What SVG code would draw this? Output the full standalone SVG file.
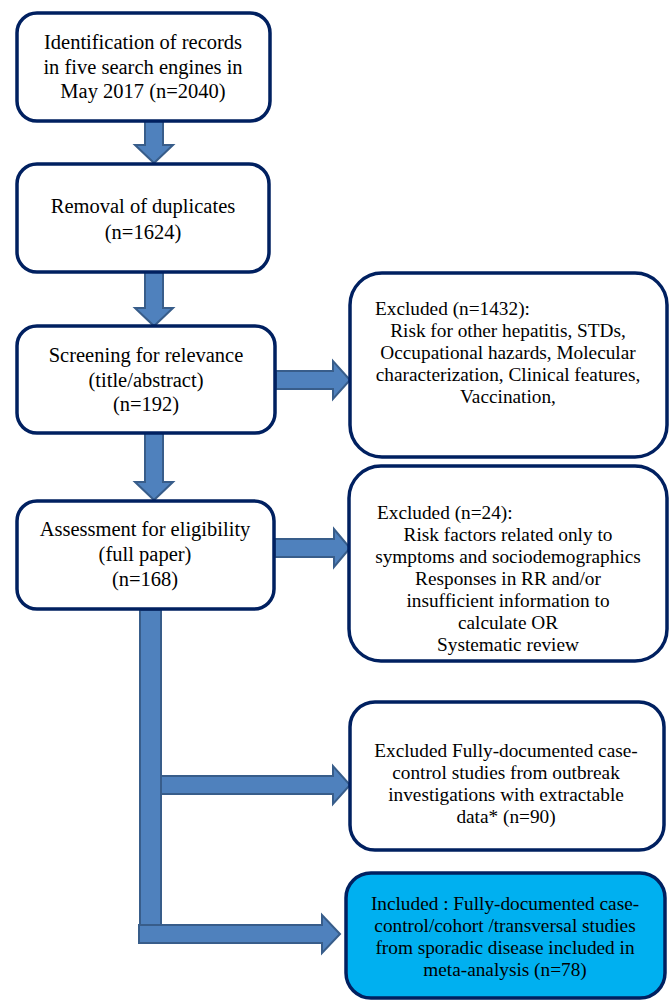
<svg xmlns="http://www.w3.org/2000/svg" width="670" height="1000" viewBox="0 0 670 1000">
<style>
.box{fill:#ffffff;stroke:#002060;stroke-width:3.5}
.inc{fill:#00b0f0;stroke:#002060;stroke-width:3.5}
.arr{fill:#4f81bd;stroke:#385d8a;stroke-width:2;stroke-linejoin:miter}
text{font-family:"Liberation Serif","Times New Roman",serif;fill:#000000}
.l{font-size:20.5px;text-anchor:middle}
.r{font-size:19.3px;text-anchor:middle}
.rs{font-size:19.3px;text-anchor:start}
</style>
<rect width="670" height="1000" fill="#ffffff"/>
<g id="connectors">
<polygon class="arr" points="145,121 163,121 163,145 173,145 154,163 135,145 145,145"/>
<polygon class="arr" points="145,272 163,272 163,308 173,308 154,326 135,308 145,308"/>
<polygon class="arr" points="145,433 163,433 163,482 173,482 154,500 135,482 145,482"/>
<polygon class="arr" points="276,371 333,371 333,361 350,380 333,399 333,389 276,389"/>
<polygon class="arr" points="275,539 334,539 334,529 350,548 334,567 334,557 275,557"/>
<rect class="arr" x="140" y="610" width="21" height="318"/>
<polygon class="arr" points="161,776 333,776 333,766 350,785 333,804 333,794 161,794"/>
<polygon class="arr" points="139,925 322,925 322,915 340,934 322,953 322,943 139,943"/>
</g>
<g id="n1">
<rect class="box" x="17" y="13" width="253" height="108" rx="20"/>
<text class="l" x="143" y="49">Identification of records</text>
<text class="l" x="143" y="74">in five search engines in</text>
<text class="l" x="143" y="98">May 2017 (n=2040)</text>
</g>
<g id="n2">
<rect class="box" x="17" y="164" width="252" height="108" rx="20"/>
<text class="l" x="143" y="213">Removal of duplicates</text>
<text class="l" x="143" y="239">(n=1624)</text>
</g>
<g id="n3">
<rect class="box" x="17" y="326" width="258" height="107" rx="20"/>
<text class="l" x="146" y="362">Screening for relevance</text>
<text class="l" x="146" y="387">(title/abstract)</text>
<text class="l" x="146" y="411">(n=192)</text>
</g>
<g id="n4">
<rect class="box" x="17" y="501" width="257" height="108" rx="20"/>
<text class="l" x="145" y="536">Assessment for eligibility</text>
<text class="l" x="145" y="561">(full paper)</text>
<text class="l" x="145" y="586">(n=168)</text>
</g>
<g id="e1">
<rect class="box" x="350" y="273" width="317" height="184" rx="32"/>
<text class="rs" x="375" y="315">Excluded (n=1432):</text>
<text class="r" x="508" y="337">Risk for other hepatitis, STDs,</text>
<text class="r" x="508" y="359">Occupational hazards, Molecular</text>
<text class="r" x="508" y="381">characterization, Clinical features,</text>
<text class="r" x="508" y="403">Vaccination,</text>
</g>
<g id="e2">
<rect class="box" x="349" y="466" width="318" height="195" rx="32"/>
<text class="rs" x="377" y="519">Excluded (n=24):</text>
<text class="r" x="508" y="541">Risk factors related only to</text>
<text class="r" x="508" y="563">symptoms and sociodemographics</text>
<text class="r" x="508" y="585">Responses in RR and/or</text>
<text class="r" x="508" y="607">insufficient information to</text>
<text class="r" x="508" y="629">calculate OR</text>
<text class="r" x="508" y="651">Systematic review</text>
</g>
<g id="e3">
<rect class="box" x="350" y="702" width="314" height="148" rx="25"/>
<text class="r" x="506" y="757">Excluded Fully-documented case-</text>
<text class="r" x="506" y="779">control studies from outbreak</text>
<text class="r" x="506" y="801">investigations with extractable</text>
<text class="r" x="506" y="823">data* (n=90)</text>
</g>
<g id="inc">
<rect class="inc" x="346" y="873" width="319" height="125" rx="25"/>
<text class="r" x="505" y="910">Included : Fully-documented case-</text>
<text class="r" x="505" y="932">control/cohort /transversal studies</text>
<text class="r" x="505" y="954">from sporadic disease included in</text>
<text class="r" x="505" y="976">meta-analysis (n=78)</text>
</g>
</svg>
